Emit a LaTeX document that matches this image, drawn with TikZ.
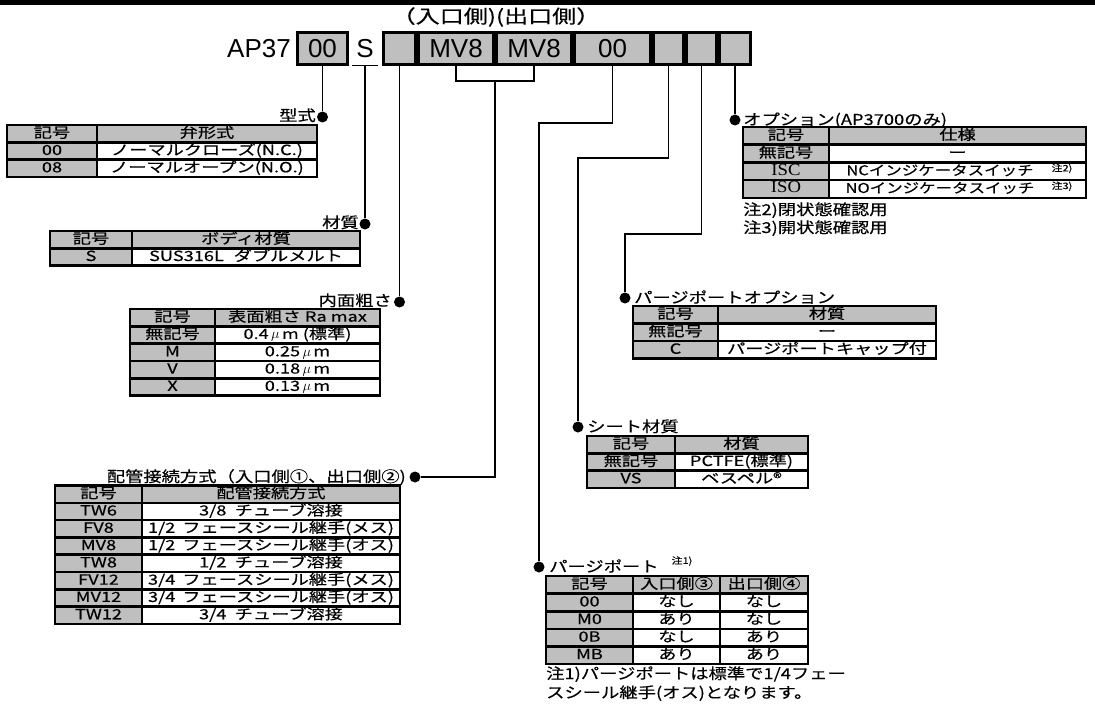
\documentclass[tikz,border=0pt]{standalone}
\usepackage{fontspec}
\setmainfont[FakeStretch=1.22,FakeBold=0.4]{Noto Sans CJK JP}
\newfontfamily\tabfont[FakeStretch=1.3,FakeBold=0.4]{Noto Sans CJK JP}
\newfontfamily\codefont{Liberation Sans}
\newfontfamily\serfont[FakeStretch=1.1]{Liberation Serif}
\usetikzlibrary{positioning}

\tikzset{
  codebox/.style={draw=black, line width=3.4pt, fill=black!25, minimum height=31.6pt, inner sep=0pt, font=\codefont\fontsize{26}{26}\selectfont},
  grid/.style={line width=2.6pt, line cap=rect},
  keycell/.style={fill=black!25},
  tx/.style={font=\tabfont\fontsize{14}{14}\selectfont, inner sep=0pt, text height=10pt, text depth=2pt},
  lbl/.style={font=\fontsize{15}{15}\selectfont, inner sep=0pt},
  note/.style={font=\fontsize{9}{9}\selectfont, inner sep=0pt},
  dot/.style={circle, fill=black, inner sep=0pt, minimum size=11pt},
  link/.style={line width=1.2pt},
}

\begin{document}
\begin{tikzpicture}[x=1pt, y=-1pt]
    \useasboundingbox (0,0) rectangle (1095,706);
    \fill (0,0.5) rectangle (1095,5.5);

    % model code
    \node[font=\codefont\fontsize{26}{26}\selectfont, anchor=east, inner sep=0pt] (ap) at (291,48.5) {AP37};
    \node[codebox, minimum width=49.6pt] (c00) at (322.5,48.5) {00};
    \node[font=\codefont\fontsize{26}{26}\selectfont, minimum width=26pt, minimum height=33pt, inner sep=0pt] (cs) at (365,48.5) {S};
    \draw[link] (cs.south west) -- (cs.south east);
    \node[codebox, minimum width=31.6pt] (c1) at (399.5,48.5) {};
    \node[codebox, minimum width=74.6pt] (c2) at (456,48.5) {MV8};
    \node[codebox, minimum width=74.6pt] (c3) at (534,48.5) {MV8};
    \node[codebox, minimum width=75.6pt] (c4) at (612.5,48.5) {00};
    \node[codebox, minimum width=29.6pt] (c5) at (668.5,48.5) {};
    \node[codebox, minimum width=29.6pt] (c6) at (701.5,48.5) {};
    \node[codebox, minimum width=30.6pt] (c7) at (735,48.5) {};
    \node[font=\tabfont\fontsize{18.5}{18.5}\selectfont, inner sep=0pt] (side) at (496,17) {（入口側)(出口側）};
    \coordinate (br) at (495,81);

    % dots
    \node[dot] (d1) at (322.5,117) {};
    \node[dot] (d2) at (365,224) {};
    \node[dot] (d3) at (399.5,302) {};
    \node[dot] (d4) at (415,477) {};
    \node[dot] (d5) at (735,120) {};
    \node[dot] (d6) at (625,298) {};
    \node[dot] (d7) at (578,427) {};
    \node[dot] (d8) at (539,567) {};

    % connectors
    \draw[link] (c00.south) -- (d1);
    \draw[link] (cs.south) -- (d2);
    \draw[link] (c1.south) -- (d3);
    \draw[link] (c2.south) |- (br) -| (c3.south);
    \draw[link] (br) |- (d4);
    \draw[link] (c4.south) -- ++(0,57) -| (d8);
    \draw[link] (c5.south) -- ++(0,92) -| (d7);
    \draw[link] (c6.south) -- ++(0,168) -| (d6);
    \draw[link] (c7.south) -- (d5);

    % labels
    \node[lbl, anchor=base east] (l1) at (316,121) {型式};
    \node[lbl, anchor=base east] (l2) at (359,228) {材質};
    \node[lbl, anchor=base east] (l3) at (392,306) {内面粗さ};
    \node[lbl, anchor=base east] (l4) at (406,482) {配管接続方式（入口側①、出口側②)};
    \node[lbl, anchor=base west] (l5) at (743,125) {オプション(AP3700のみ)};
    \node[lbl, anchor=base west] (l6) at (634,303) {パージポートオプション};
    \node[lbl, anchor=base west] (l7) at (587,432) {シート材質};
    \node[lbl, anchor=base west] (l8) at (549,572) {パージポート};
    \node[note] (l8n) at (682,561) {注1)};

    % type table
    \fill[keycell] (7,125) rectangle (317,142.3) (7,142.3) rectangle (97,176.9);
    \draw[grid] (7,125) rectangle (317,176.9) (97,125) -- (97,176.9)
        (7,142.3) -- (317,142.3) (7,159.6) -- (317,159.6);
    \node[tx] (ta0) at (52,133.7) {記号};
    \node[tx] (tb0) at (207,133.7) {弁形式};
    \node[tx] (ta1) at (52,151) {00};
    \node[tx] (tb1) at (207,151) {ノーマルクローズ(N.C.)};
    \node[tx] (ta2) at (52,168.3) {08};
    \node[tx] (tb2) at (207,168.3) {ノーマルオープン(N.O.)};

    % body table
    \fill[keycell] (50,231) rectangle (360,248.3) (50,248.3) rectangle (132,265.6);
    \draw[grid] (50,231) rectangle (360,265.6) (132,231) -- (132,265.6)
        (50,248.3) -- (360,248.3);
    \node[tx] (ba0) at (91,239.7) {記号};
    \node[tx] (bb0) at (246,239.7) {ボディ材質};
    \node[tx] (ba1) at (91,257) {S};
    \node[tx] (bb1) at (246,257) {SUS316L\hspace{0.7em}ダブルメルト};

    % surface table
    \fill[keycell] (130,309) rectangle (380,326.3) (130,326.3) rectangle (215,395.5);
    \draw[grid] (130,309) rectangle (380,395.5) (215,309) -- (215,395.5);
    \foreach \y in {326.3,343.6,360.9,378.2} \draw[grid] (130,\y) -- (380,\y);
    \node[tx] (ra0) at (172.5,317.65) {記号};
    \node[tx] (rb0) at (297.5,317.65) {表面粗さ Ra max};
    \node[tx] (ra1) at (172.5,334.95) {無記号};
    \node[tx] (rb1) at (297.5,334.95) {0.4\,$\mu$\,m (標準)};
    \node[tx] (ra2) at (172.5,352.25) {M};
    \node[tx] (rb2) at (297.5,352.25) {0.25\,$\mu$\,m};
    \node[tx] (ra3) at (172.5,369.55) {V};
    \node[tx] (rb3) at (297.5,369.55) {0.18\,$\mu$\,m};
    \node[tx] (ra4) at (172.5,386.85) {X};
    \node[tx] (rb4) at (297.5,386.85) {0.13\,$\mu$\,m};

    % connection table
    \fill[keycell] (55,485.5) rectangle (400,502.8) (55,502.8) rectangle (142,623.9);
    \draw[grid] (55,485.5) rectangle (400,623.9) (142,485.5) -- (142,623.9);
    \foreach \y in {502.8,520.1,537.4,554.7,572,589.3,606.6} \draw[grid] (55,\y) -- (400,\y);
    \node[tx] (pa0) at (98.5,494.15) {記号};
    \node[tx] (pb0) at (271,494.15) {配管接続方式};
    \node[tx] (pa1) at (98.5,511.45) {TW6};
    \node[tx] (pb1) at (271,511.45) {3/8\hspace{0.6em}チューブ溶接};
    \node[tx] (pa2) at (98.5,528.75) {FV8};
    \node[tx] (pb2) at (271,528.75) {1/2\hspace{0.5em}フェースシール継手(メス)};
    \node[tx] (pa3) at (98.5,546.05) {MV8};
    \node[tx] (pb3) at (271,546.05) {1/2\hspace{0.5em}フェースシール継手(オス)};
    \node[tx] (pa4) at (98.5,563.35) {TW8};
    \node[tx] (pb4) at (271,563.35) {1/2\hspace{0.6em}チューブ溶接};
    \node[tx] (pa5) at (98.5,580.65) {FV12};
    \node[tx] (pb5) at (271,580.65) {3/4\hspace{0.5em}フェースシール継手(メス)};
    \node[tx] (pa6) at (98.5,597.95) {MV12};
    \node[tx] (pb6) at (271,597.95) {3/4\hspace{0.5em}フェースシール継手(オス)};
    \node[tx] (pa7) at (98.5,615.25) {TW12};
    \node[tx] (pb7) at (271,615.25) {3/4\hspace{0.6em}チューブ溶接};

    % option table
    \fill[keycell] (743,127) rectangle (1086,144.7) (743,144.7) rectangle (829,197.8);
    \draw[grid] (743,127) rectangle (1086,197.8) (829,127) -- (829,197.8);
    \foreach \y in {144.7,162.4,180.1} \draw[grid] (743,\y) -- (1086,\y);
    \node[tx] (oa0) at (786,135.85) {記号};
    \node[tx] (ob0) at (957.5,135.85) {仕様};
    \node[tx] (oa1) at (786,153.55) {無記号};
    \node[tx] (ob1) at (957.5,153.55) {ー};
    \node[tx, font=\serfont\fontsize{17}{17}\selectfont] (oa2) at (786,171.25) {ISC};
    \node[tx, font=\fontsize{13.5}{13.5}\selectfont] (ob2) at (940,171.25) {NCインジケータスイッチ};
    \node[note] (on2) at (1062,168.5) {注2)};
    \node[tx, font=\serfont\fontsize{17}{17}\selectfont] (oa3) at (786,188.95) {ISO};
    \node[tx, font=\fontsize{13.5}{13.5}\selectfont] (ob3) at (940,188.95) {NOインジケータスイッチ};
    \node[note] (on3) at (1062,186.2) {注3)};
    \node[lbl, anchor=base west] (on4) at (743,215) {注2)閉状態確認用};
    \node[lbl, anchor=base west] (on5) at (743,233) {注3)開状態確認用};

    % purge option table
    \fill[keycell] (633,306) rectangle (936,323.5) (633,323.5) rectangle (718,358.5);
    \draw[grid] (633,306) rectangle (936,358.5) (718,306) -- (718,358.5)
        (633,323.5) -- (936,323.5) (633,341) -- (936,341);
    \node[tx] (qa0) at (675.5,314.75) {記号};
    \node[tx] (qb0) at (827,314.75) {材質};
    \node[tx] (qa1) at (675.5,332.25) {無記号};
    \node[tx] (qb1) at (827,332.25) {ー};
    \node[tx] (qa2) at (675.5,349.75) {C};
    \node[tx] (qb2) at (827,349.75) {パージポートキャップ付};

    % seat table
    \fill[keycell] (587,436) rectangle (808,453.3) (587,453.3) rectangle (675,487.9);
    \draw[grid] (587,436) rectangle (808,487.9) (675,436) -- (675,487.9)
        (587,453.3) -- (808,453.3) (587,470.6) -- (808,470.6);
    \node[tx] (sa0) at (631,444.65) {記号};
    \node[tx] (sb0) at (741.5,444.65) {材質};
    \node[tx] (sa1) at (631,461.95) {無記号};
    \node[tx] (sb1) at (741.5,461.95) {PCTFE(標準)};
    \node[tx] (sa2) at (631,479.25) {VS};
    \node[tx] (sb2) at (741.5,479.25) {ベスペル®};

    % purge port table
    \fill[keycell] (546,576) rectangle (808,593.6) (546,593.6) rectangle (633,664);
    \draw[grid] (546,576) rectangle (808,664) (633,576) -- (633,664) (720,576) -- (720,664);
    \foreach \y in {593.6,611.2,628.8,646.4} \draw[grid] (546,\y) -- (808,\y);
    \node[tx] (ua0) at (589.5,584.8) {記号};
    \node[tx] (ub0) at (676.5,584.8) {入口側③};
    \node[tx] (uc0) at (764,584.8) {出口側④};
    \node[tx] (ua1) at (589.5,602.4) {00};
    \node[tx] (ub1) at (676.5,602.4) {なし};
    \node[tx] (uc1) at (764,602.4) {なし};
    \node[tx] (ua2) at (589.5,620) {M0};
    \node[tx] (ub2) at (676.5,620) {あり};
    \node[tx] (uc2) at (764,620) {なし};
    \node[tx] (ua3) at (589.5,637.6) {0B};
    \node[tx] (ub3) at (676.5,637.6) {なし};
    \node[tx] (uc3) at (764,637.6) {あり};
    \node[tx] (ua4) at (589.5,655.2) {MB};
    \node[tx] (ub4) at (676.5,655.2) {あり};
    \node[tx] (uc4) at (764,655.2) {あり};
    \node[lbl, anchor=base west] (un1) at (546,679) {注1)パージポートは標準で1/4フェー};
    \node[lbl, anchor=base west] (un2) at (546,698) {スシール継手(オス)となります。};
\end{tikzpicture}
\end{document}
